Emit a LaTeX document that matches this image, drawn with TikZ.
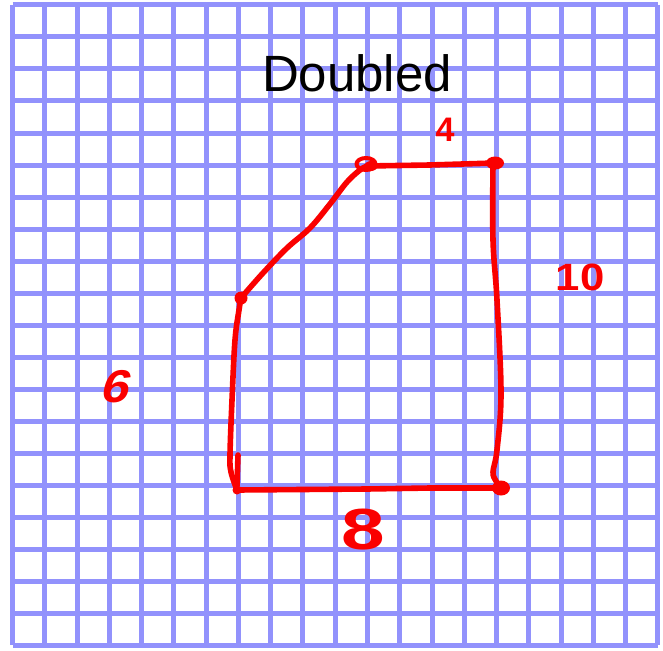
\documentclass[tikz,border=0pt]{standalone}
\usepackage{fontspec}
\setmainfont{Liberation Sans}
\usepackage{tikz}
\usetikzlibrary{arrows.meta, positioning, calc}
\definecolor{gridblue}{RGB}{146,146,252}
\definecolor{penred}{RGB}{250,0,0}

\begin{document}
\begin{tikzpicture}[x=1pt,y=-1pt,
  gridline/.style={gridblue,line width=5pt},
  pen/.style={penred,line width=5.6pt,line cap=round,line join=round},
  dot/.style={penred,fill=penred},
  handnum/.style={penred,inner sep=0pt}]
\useasboundingbox[fill=white] (0,0) rectangle (663,650);
% Grid paper
\foreach \k in {0,...,20} {
  \draw[gridline] ({12.5+32.27*\k},5) -- ({12.5+32.27*\k},645);
  \draw[gridline] (12.5,{5+32*\k}) -- (658,{5+32*\k});
}
% Corners of the shape
\coordinate (midleft) at (241,298);
\coordinate (topleft) at (367,166);
\coordinate (topright) at (495,163);
\coordinate (botright) at (501,488);
\coordinate (botleft) at (237,490);
% Outline
\draw[pen] plot[smooth,tension=0.6] coordinates {(midleft) (263,273) (287,248) (310,228) (330,204) (347,182) (360,170) (topleft)}
  -- (430,165) -- (topright);
\draw[pen] plot[smooth,tension=0.6] coordinates {(493,165) (493,240) (497,300) (501,393) (497,450) (493,472) (496,481) (botright)};
\draw[pen] (botright) -- (430,488) -- (367,489) -- (botleft);
\draw[pen] plot[smooth,tension=0.6] coordinates {(botleft) (231,472) (230,455) (232,400) (235,340) (239,310) (midleft)};
\draw[pen] (238,455) -- (237,486);
% Dots at the corners
\fill[dot] (midleft) circle (6.5);
\draw[pen,line width=4pt] (366,164) ellipse (9.5 and 6);
\fill[dot] (371,166) ellipse (6.5 and 5);
\fill[dot] (topright) ellipse (9 and 6.5);
\fill[dot] (botright) ellipse (9 and 7.5);
\fill[dot] (botleft) circle (4.5);
% Labels
\node[anchor=base,font=\fontsize{51}{51}\selectfont] (title) at (357,92) {Doubled};
\node[handnum,font=\bfseries\fontsize{34}{34}\selectfont] (four) at (445,130) {4};
\node[handnum,xscale=1.15,font=\bfseries\fontsize{38}{38}\selectfont] (ten) at (580,277) {10};
\node[handnum,xslant=0.25,xscale=1.1,font=\bfseries\fontsize{46}{46}\selectfont] (six) at (118,387) {6};
\node[handnum,xscale=1.35,font=\bfseries\fontsize{58}{58}\selectfont] (eight) at (363,530) {8};
\end{tikzpicture}
\end{document}
